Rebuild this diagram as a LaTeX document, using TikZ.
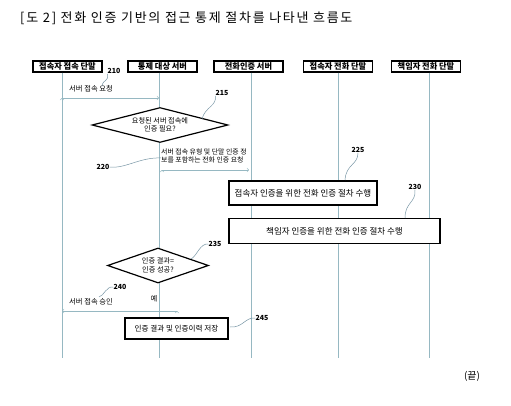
\documentclass[tikz,border=0pt]{standalone}
\usepackage{fontspec}
\setmainfont{Noto Sans CJK KR}
\usepackage{tikz}
\usepackage{xcolor}
\usetikzlibrary{shapes.geometric}
\definecolor{lanecol}{RGB}{150,184,194}
\definecolor{leadcol}{RGB}{120,150,165}
\tikzstyle{actor} = [rectangle, draw, fill=white, line width=1.2pt, inner sep=0pt, minimum width=69pt, minimum height=11pt, font=\fontsize{8.2}{9}\selectfont\bfseries]
\tikzstyle{proc} = [rectangle, draw, fill=white, line width=1.2pt, inner sep=0pt, font=\fontsize{8.5}{10}\selectfont]
\tikzstyle{decision} = [diamond, draw, fill=white, line width=1.2pt, inner sep=0pt, align=center, font=\fontsize{7.2}{8.5}\selectfont]
\tikzstyle{lifeline} = [draw=lanecol, line width=0.5pt]
\tikzstyle{msg} = [->, draw=lanecol, line width=0.6pt]
\tikzstyle{note} = [inner sep=0pt, font=\fontsize{7.3}{9}\selectfont]
\tikzstyle{refnum} = [inner sep=0pt, font=\fontsize{7}{8}\selectfont\bfseries]
\tikzstyle{leader} = [draw=leadcol, line width=0.5pt]
\begin{document}
\begin{tikzpicture}[x=1pt,y=-1pt,>=to]
  \useasboundingbox (0,0) rectangle (511,406);
  \node[anchor=west, inner sep=0pt, font=\fontsize{13}{15}\selectfont\addfontfeatures{LetterSpace=13}] (title) at (20,18) {[도 2] 전화 인증 기반의 접근 통제 절차를 나타낸 흐름도};

  \node[actor] (ts) at (67.5,66.5) {접속자 접속 단말};
  \node[actor] (srv) at (162.5,66.5) {통제 대상 서버};
  \node[actor] (auth) at (248.5,66.5) {전화인증 서버};
  \node[actor] (uph) at (338,66.5) {접속자 전화 단말};
  \node[actor] (mph) at (426,66.5) {책임자 전화 단말};

  \coordinate (e1) at (62,358);
  \coordinate (e2) at (159,358);
  \coordinate (e3) at (251,358);
  \coordinate (e4) at (338,358);
  \coordinate (e5) at (429,358);
  \draw[lifeline] (ts.south -| e1) -- (e1);
  \draw[lifeline] (srv.south -| e2) -- (e2);
  \draw[lifeline] (auth.south -| e3) -- (e3);
  \draw[lifeline] (uph.south -| e4) -- (e4);
  \draw[lifeline] (mph.south -| e5) -- (e5);

  \coordinate (req1) at (62,98);
  \coordinate (req2) at (159,98);
  \path[msg] (req1) edge (req2);
  \node[note] (reqtxt) at (91,89) {서버 접속 요청};

  \node[decision, aspect=3.9, minimum width=136pt, minimum height=35pt] (need) at (160,125) {요청된 서버 접속에\\인증 필요?};

  \coordinate (call1) at (162,170);
  \coordinate (call2) at (249,170);
  \path[msg] (call1) edge (call2);
  \node[note, anchor=west, align=left, font=\fontsize{6.9}{8}\selectfont] (calltxt) at (161,156) {서버 접속 유형 및 단말 인증 정\\보를 포함하는 전화 인증 요청};

  \node[proc, minimum width=148pt, minimum height=24pt] (uauth) at (303,193) {접속자 인증을 위한 전화 인증 절차 수행};
  \node[proc, minimum width=211pt, minimum height=25pt] (mauth) at (334.5,231) {책임자 인증을 위한 전화 인증 절차 수행};

  \node[decision, aspect=2.9, minimum width=101pt, minimum height=35pt] (ok) at (158,265.5) {인증 결과=\\인증 성공?};

  \node[note] (yes) at (154,299) {예};
  \coordinate (grant1) at (177,311);
  \coordinate (grant2) at (62,311);
  \path[msg] (grant1) edge (grant2);
  \node[note] (granttxt) at (91,302) {서버 접속 승인};

  \node[proc, minimum width=103pt, minimum height=21pt, font=\fontsize{7.6}{9}\selectfont] (log) at (176.5,328.5) {인증 결과 및 인증이력 저장};

  \node[refnum] (n210) at (114,71) {210};
  \node[refnum] (n215) at (222,93) {215};
  \node[refnum] (n220) at (103,167) {220};
  \node[refnum] (n225) at (358,150) {225};
  \node[refnum] (n230) at (415,187) {230};
  \node[refnum] (n235) at (215,244) {235};
  \node[refnum] (n240) at (120,287) {240};
  \node[refnum] (n245) at (262,318) {245};

  \coordinate (p210) at (102,86);
  \coordinate (p215) at (202,119);
  \coordinate (p220) at (161,158);
  \coordinate (p225) at (345,180);
  \coordinate (p230) at (405,218);
  \coordinate (p235) at (191,259);
  \coordinate (p240) at (99,297);
  \coordinate (p245) at (230,327);
  \draw[leader] (n210.south west) .. controls (109,82) and (103,79) .. (p210);
  \draw[leader] (n215.south west) .. controls (217,106) and (205,107) .. (p215);
  \draw[leader] (n220.east) .. controls (125,169) and (140,157) .. (p220);
  \draw[leader] (n225.south) .. controls (358,165) and (346,164) .. (p225);
  \draw[leader] (n230.south) .. controls (416,203) and (405,202) .. (p230);
  \draw[leader] (n235.west) .. controls (200,243) and (197,256) .. (p235);
  \draw[leader] (n240.west) .. controls (106,286) and (104,296) .. (p240);
  \draw[leader] (n245.west) .. controls (245,317) and (243,328) .. (p245);

  \node[inner sep=0pt, font=\fontsize{10}{12}\selectfont] (fin) at (472,376) {(끝)};
\end{tikzpicture}
\end{document}
